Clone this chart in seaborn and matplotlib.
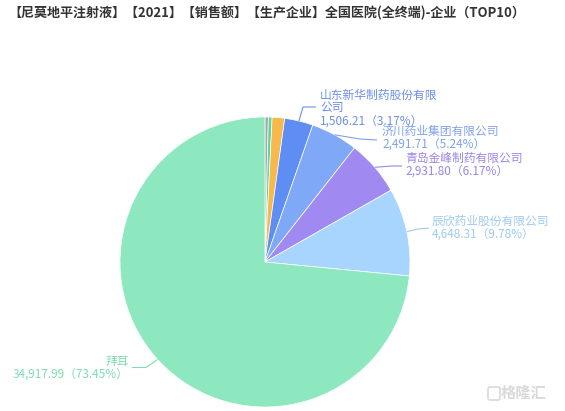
import matplotlib
matplotlib.use("Agg")
import matplotlib.pyplot as plt
import matplotlib.patches as mpatches
import seaborn as sns
import numpy as np

# data (clockwise from 12 o'clock)
companies = ["其他1", "其他2", "其他3", "山东新华制药股份有限\n公司", "济川药业集团有限公司",
             "青岛金峰制药有限公司", "辰欣药业股份有限公司", "拜耳"]
sales = [174.0, 200.0, 660.0, 1506.21, 2491.71, 2931.80, 4648.31, 34917.99]
shares = [0.37, 0.42, 1.39, 3.17, 5.24, 6.17, 9.78, 73.45]
show_label = [False, False, False, True, True, True, True, True]
colors = ["#a3a3a3", "#5cd6a4", "#f7b84c", "#5e8ef3", "#7fa9f6", "#a08af2", "#a8d5fd", "#8ee8bf"]
label_colors = ["#a3a3a3", "#5cd6a4", "#f7b84c", "#6d8fe8", "#7fa2ea", "#9a86e6", "#9fcaf2", "#7fdcb3"]

title = "【尼莫地平注射液】【2021】【销售额】【生产企业】全国医院(全终端)-企业（TOP10）"

# label layout in pixels: text anchor, elbow, line end
label_text_pos = {3: (320, 108), 4: (382, 137.5), 5: (405, 165), 6: (432, 227.5), 7: (129, 367.5)}
label_line_end = {3: [(303, 107), (316, 107)], 4: [(360, 139), (377, 140)],
                  5: [(392, 166), (402, 166)], 6: [(418, 229), (429, 228)],
                  7: [(146, 367.5), (132, 367.5)]}

W, H = 565, 411
sns.set_style("white")
plt.rcParams['font.family'] = ['Noto Sans CJK SC', 'DejaVu Sans']

fig = plt.figure(figsize=(W / 100, H / 100), dpi=100)
ax = fig.add_axes([0, 0, 1, 1])

cx, cy, r = 265, H - 262, 145
wedges, _ = ax.pie(sales, colors=colors, startangle=90, counterclock=False,
                   center=(cx, cy), radius=r, frame=True,
                   wedgeprops=dict(edgecolor="white", linewidth=0.5))
ax.set_xlim(0, W)
ax.set_ylim(0, H)
ax.set_aspect("equal")
ax.axis("off")

for i, w in enumerate(wedges):
    if not show_label[i]:
        continue
    mid = np.deg2rad((w.theta1 + w.theta2) / 2)
    sx, sy = cx + r * np.cos(mid), cy + r * np.sin(mid)
    pts = [(sx, sy)] + [(x, H - y) for x, y in label_line_end[i]]
    ax.plot([p[0] for p in pts], [p[1] for p in pts], color=label_colors[i], lw=0.8,
            solid_capstyle="butt")
    tx, ty = label_text_pos[i]
    txt = f"{companies[i]}\n{sales[i]:,.2f}（{shares[i]:.2f}%）"
    ha = "right" if i == 7 else "left"
    ax.text(tx, H - ty, txt, ha=ha, va="center", multialignment=ha, fontsize=8.5,
            color=label_colors[i], linespacing=1.0)

fig.text(8 / W, 1 - 13 / H, title, ha="left", va="center", fontsize=9.4, fontweight="bold",
         color="#333333")

# watermark
ax.add_patch(mpatches.FancyBboxPatch((488, H - 400), 12, 13, boxstyle="round,pad=0,rounding_size=2",
                                     fill=False, edgecolor="#d9d9d9", lw=1.2))
ax.text(546, H - 393, "格隆汇", ha="right", va="center", fontsize=11,
        color="#d9d9d9", fontweight="bold")

fig.savefig("out.png", dpi=100)
